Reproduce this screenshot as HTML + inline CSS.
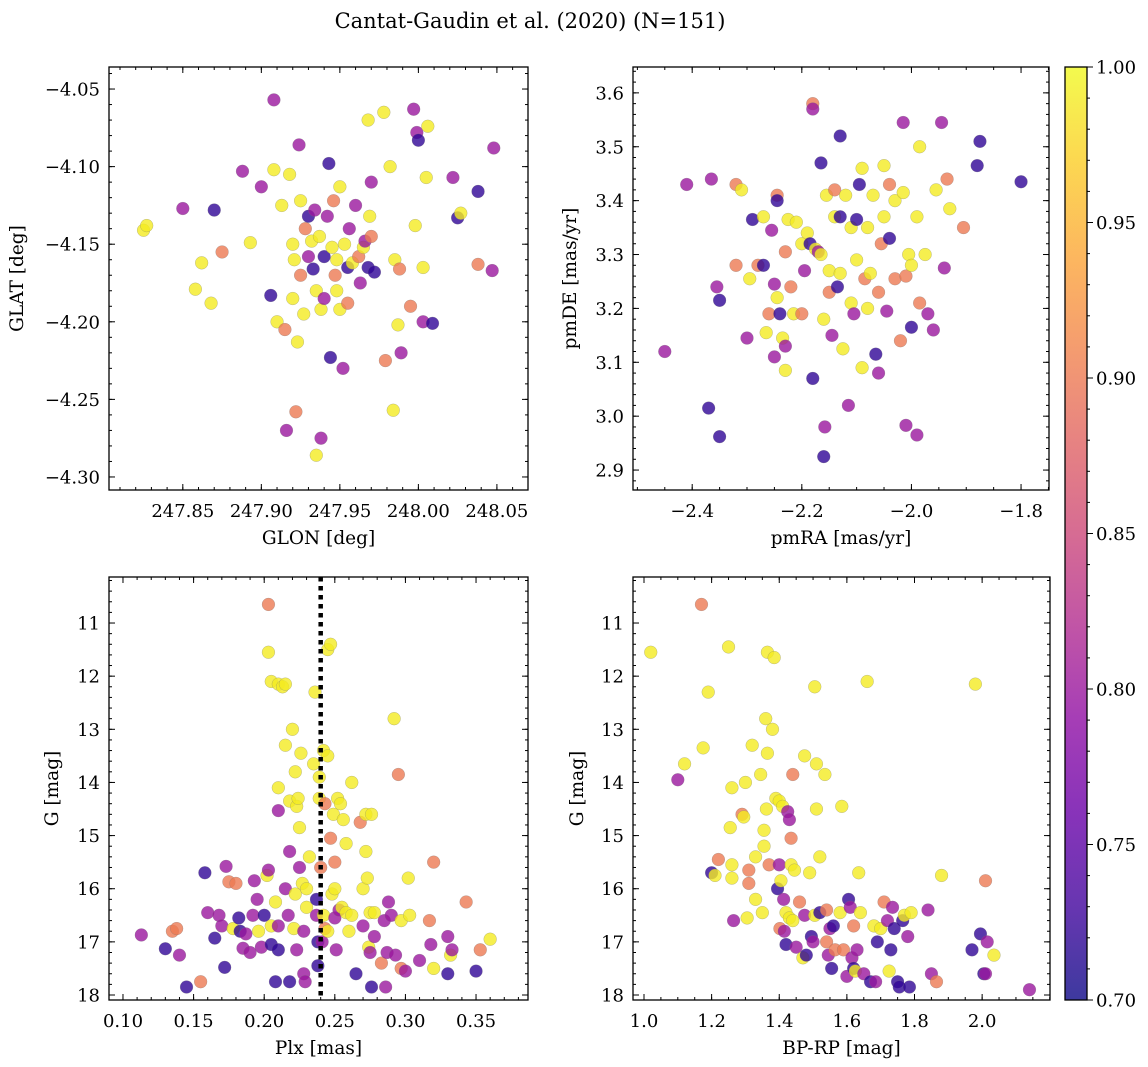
<!DOCTYPE html>
<html><head><meta charset="utf-8">
<style>
body{margin:0;background:#fff;}
svg{display:block;font-family:"DejaVu Serif","Liberation Serif",serif;}
</style></head>
<body>
<svg id="fig" width="1148" height="1067" viewBox="0 0 1148 1067" xmlns="http://www.w3.org/2000/svg">
<defs>
<linearGradient id="cbgrad" x1="0" y1="1" x2="0" y2="0">
<stop offset="0" stop-color="#0d0887"/><stop offset="0.1" stop-color="#41049d"/><stop offset="0.2" stop-color="#6a00a8"/><stop offset="0.3" stop-color="#8f0da4"/><stop offset="0.4" stop-color="#b12a90"/><stop offset="0.5" stop-color="#cc4778"/><stop offset="0.6" stop-color="#e16462"/><stop offset="0.7" stop-color="#f2844b"/><stop offset="0.8" stop-color="#fca636"/><stop offset="0.9" stop-color="#fcce25"/><stop offset="1" stop-color="#f0f921"/>
</linearGradient>
</defs>
<text x="530" y="28" font-size="21" text-anchor="middle">Cantat-Gaudin et al. (2020) (N=151)</text>
</svg>
<script>
// ---- data ----
const Y=0.99,O=0.90,P=0.80,B=0.72;
const glonVals=[247.825,247.827,247.85,247.858,247.862,247.868,247.870,247.875,247.888,247.893,247.900,247.908,247.908,247.906,247.910,247.913,247.915,247.916,247.918,247.920,247.920,247.921,247.922,247.923,247.924,247.925,247.925,247.927,247.928,247.930,247.930,247.932,247.933,247.934,247.935,247.935,247.937,247.938,247.938,247.940,247.940,247.942,247.943,247.944,247.945,247.946,247.947,247.948,247.948,247.950,247.950,247.952,247.953,247.955,247.955,247.956,247.958,247.960,247.962,247.963,247.965,247.966,247.968,247.968,247.969,247.970,247.970,247.972,247.978,247.979,247.982,247.984,247.985,247.987,247.988,247.989,247.995,247.997,247.998,247.999,248.000,248.003,248.003,248.005,248.006,248.009,248.022,248.025,248.027,248.038,248.038,248.047,248.048];
const glatVals=[-4.141,-4.138,-4.127,-4.179,-4.162,-4.188,-4.128,-4.155,-4.103,-4.149,-4.113,-4.057,-4.102,-4.183,-4.200,-4.125,-4.205,-4.270,-4.105,-4.185,-4.150,-4.160,-4.258,-4.213,-4.086,-4.170,-4.122,-4.195,-4.140,-4.132,-4.158,-4.148,-4.166,-4.128,-4.180,-4.286,-4.145,-4.192,-4.275,-4.158,-4.185,-4.132,-4.098,-4.223,-4.152,-4.122,-4.170,-4.180,-4.160,-4.192,-4.113,-4.230,-4.150,-4.165,-4.188,-4.140,-4.162,-4.125,-4.158,-4.175,-4.152,-4.148,-4.070,-4.165,-4.132,-4.110,-4.145,-4.168,-4.065,-4.225,-4.100,-4.257,-4.160,-4.202,-4.166,-4.220,-4.190,-4.063,-4.138,-4.078,-4.083,-4.165,-4.200,-4.107,-4.074,-4.201,-4.107,-4.133,-4.130,-4.116,-4.163,-4.167,-4.088];
const probA=[Y,Y,P,Y,Y,Y,B,O,P,Y,P,P,Y,B,Y,Y,O,P,Y,Y,Y,Y,O,Y,P,O,Y,Y,O,B,P,Y,B,P,Y,Y,Y,Y,P,B,P,P,B,B,Y,O,O,Y,Y,Y,Y,P,Y,B,O,P,Y,P,O,P,Y,P,Y,B,Y,P,O,B,Y,O,Y,Y,Y,Y,O,P,O,P,Y,P,B,Y,P,Y,Y,B,P,B,Y,B,O,P,P];

const pmraVals=[-2.45,-2.41,-2.37,-2.365,-2.355,-2.35,-2.35,-2.32,-2.32,-2.31,-2.30,-2.295,-2.29,-2.28,-2.27,-2.27,-2.265,-2.26,-2.255,-2.25,-2.25,-2.245,-2.245,-2.245,-2.24,-2.235,-2.23,-2.23,-2.23,-2.225,-2.22,-2.215,-2.21,-2.20,-2.20,-2.195,-2.19,-2.185,-2.18,-2.18,-2.18,-2.175,-2.17,-2.165,-2.165,-2.16,-2.16,-2.158,-2.155,-2.15,-2.15,-2.145,-2.14,-2.14,-2.135,-2.13,-2.13,-2.13,-2.125,-2.12,-2.115,-2.11,-2.11,-2.105,-2.10,-2.10,-2.095,-2.09,-2.09,-2.085,-2.08,-2.08,-2.075,-2.07,-2.065,-2.06,-2.06,-2.055,-2.05,-2.05,-2.045,-2.04,-2.04,-2.03,-2.03,-2.02,-2.015,-2.015,-2.01,-2.01,-2.005,-2.00,-2.0,-1.99,-1.985,-1.985,-1.99,-1.975,-1.97,-1.96,-1.955,-1.945,-1.94,-1.935,-1.93,-1.905,-1.88,-1.875,-1.80];
const pmdeVals=[3.12,3.43,3.015,3.44,3.24,3.215,2.962,3.43,3.28,3.42,3.145,3.255,3.365,3.28,3.37,3.28,3.155,3.19,3.345,3.245,3.11,3.41,3.40,3.22,3.19,3.145,3.305,3.13,3.085,3.365,3.24,3.19,3.36,3.32,3.19,3.27,3.34,3.32,3.58,3.57,3.07,3.31,3.305,3.47,3.30,3.18,2.925,2.98,3.41,3.27,3.23,3.15,3.42,3.37,3.24,3.52,3.37,3.265,3.125,3.41,3.02,3.35,3.21,3.19,3.365,3.29,3.43,3.46,3.09,3.255,3.20,3.35,3.265,3.41,3.115,3.08,3.23,3.32,3.465,3.37,3.195,3.33,3.43,3.40,3.255,3.14,3.545,3.415,3.26,2.983,3.30,3.165,3.28,3.37,3.50,3.21,2.965,3.30,3.19,3.16,3.42,3.545,3.275,3.44,3.385,3.35,3.465,3.51,3.435];
const probB=[P,P,B,P,P,B,B,O,O,Y,P,Y,B,O,Y,B,Y,O,P,P,P,O,B,Y,B,Y,O,P,Y,Y,O,Y,Y,Y,O,P,Y,B,O,P,B,Y,P,B,Y,Y,B,P,Y,Y,O,P,O,Y,B,B,B,Y,Y,Y,P,Y,Y,P,B,Y,B,Y,Y,O,Y,Y,Y,Y,B,P,O,O,Y,Y,P,B,O,Y,O,O,P,Y,O,P,Y,B,Y,Y,Y,O,P,Y,P,P,Y,P,P,O,Y,O,B,B,B];

const plxVals=[0.113,0.13,0.135,0.138,0.14,0.145,0.155,0.158,0.16,0.165,0.168,0.170,0.172,0.173,0.175,0.178,0.18,0.182,0.183,0.185,0.187,0.19,0.192,0.193,0.195,0.196,0.198,0.2,0.202,0.203,0.203,0.203,0.205,0.205,0.205,0.208,0.208,0.21,0.21,0.21,0.21,0.21,0.213,0.215,0.215,0.215,0.217,0.218,0.218,0.218,0.22,0.221,0.222,0.222,0.223,0.223,0.224,0.225,0.225,0.226,0.227,0.228,0.228,0.229,0.23,0.23,0.232,0.235,0.236,0.237,0.237,0.238,0.238,0.239,0.239,0.24,0.241,0.242,0.242,0.243,0.243,0.245,0.245,0.245,0.247,0.247,0.248,0.249,0.25,0.25,0.25,0.251,0.252,0.253,0.254,0.255,0.256,0.258,0.258,0.26,0.262,0.262,0.265,0.268,0.27,0.27,0.272,0.272,0.273,0.274,0.275,0.275,0.276,0.276,0.278,0.278,0.283,0.285,0.286,0.287,0.288,0.29,0.292,0.293,0.295,0.297,0.297,0.3,0.302,0.303,0.31,0.317,0.318,0.32,0.32,0.33,0.33,0.332,0.333,0.343,0.35,0.353,0.36];
const gVals3=[16.87,17.13,16.8,16.75,17.25,17.85,17.75,15.7,16.45,16.93,16.5,16.7,17.48,15.58,15.87,16.75,15.9,16.55,16.8,17.12,16.85,17.2,16.5,15.85,16.2,16.8,17.1,16.5,15.75,10.65,15.65,11.55,17.05,16.7,12.1,16.25,17.75,17.15,16.7,12.15,14.1,14.53,12.2,16.0,12.15,13.3,16.5,14.35,15.3,17.75,13.0,16.75,16.1,13.8,14.45,17.15,14.3,14.85,15.6,13.45,15.9,17.6,16.8,17.75,16.0,16.35,15.4,13.65,12.3,16.5,16.2,17.0,17.45,14.3,13.9,15.6,17.0,13.4,16.5,14.4,16.75,11.5,13.5,16.8,11.4,15.05,16.1,14.6,16.0,16.55,15.5,17.15,14.3,16.4,14.4,16.35,14.7,15.15,16.45,16.8,14.0,16.5,17.6,14.75,16.0,16.7,15.3,14.6,15.8,17.1,16.45,17.2,14.6,17.85,16.45,16.9,17.4,16.6,17.85,17.2,16.25,16.5,12.8,17.25,13.85,16.6,17.5,17.55,15.8,16.5,17.35,16.6,17.05,15.5,17.5,17.6,16.9,17.25,17.15,16.25,17.55,17.15,16.95];
const probC=[P,B,O,O,P,B,O,B,P,B,P,P,B,P,O,Y,O,B,B,P,P,P,P,P,P,Y,P,B,Y,O,P,Y,B,Y,Y,Y,B,B,P,Y,Y,P,Y,P,Y,Y,P,Y,P,B,Y,Y,Y,Y,Y,P,Y,Y,P,Y,Y,P,P,P,Y,Y,Y,Y,Y,P,B,B,B,Y,Y,O,P,Y,Y,O,O,Y,Y,Y,Y,O,Y,Y,Y,P,O,P,Y,P,Y,Y,Y,Y,Y,Y,Y,Y,B,O,Y,P,Y,Y,Y,Y,Y,P,Y,B,Y,P,O,P,P,P,P,P,Y,P,O,Y,O,P,Y,Y,P,O,P,O,Y,B,P,Y,P,O,B,O,Y];

const bprpVals=[1.02,1.1,1.12,1.17,1.175,1.19,1.2,1.21,1.22,1.25,1.255,1.26,1.26,1.26,1.265,1.29,1.295,1.3,1.305,1.31,1.31,1.32,1.33,1.33,1.345,1.35,1.355,1.355,1.36,1.362,1.365,1.365,1.37,1.38,1.385,1.39,1.395,1.4,1.4,1.402,1.405,1.41,1.413,1.415,1.42,1.42,1.425,1.43,1.43,1.435,1.435,1.44,1.44,1.445,1.45,1.46,1.47,1.475,1.475,1.48,1.49,1.495,1.5,1.505,1.505,1.51,1.51,1.52,1.52,1.535,1.54,1.54,1.545,1.55,1.555,1.56,1.565,1.58,1.585,1.59,1.6,1.605,1.61,1.615,1.62,1.62,1.625,1.63,1.635,1.64,1.65,1.66,1.67,1.68,1.685,1.69,1.7,1.71,1.72,1.725,1.73,1.735,1.74,1.75,1.755,1.765,1.77,1.78,1.785,1.79,1.84,1.85,1.865,1.88,1.97,1.98,1.995,2.005,2.01,2.015,2.01,2.035,2.14];
const gVals4=[11.55,13.95,13.65,10.65,13.35,12.3,15.7,15.75,15.45,11.45,14.85,14.1,15.55,15.8,16.6,14.6,14.65,14.0,16.55,15.9,15.65,13.3,15.4,16.2,13.85,16.45,15.2,14.9,12.8,14.5,13.45,11.55,15.55,13.0,11.65,14.3,16.0,14.35,15.55,16.75,15.85,14.45,16.2,16.8,16.45,17.05,14.55,14.7,16.55,15.55,15.05,13.85,16.6,15.65,17.1,16.25,17.3,16.5,13.5,17.25,15.7,16.9,17.0,16.5,12.2,14.5,13.65,15.4,16.45,13.85,16.4,17.0,17.25,16.75,17.5,16.7,17.15,16.45,14.45,17.15,17.65,16.2,16.35,17.3,17.5,16.7,17.55,17.15,15.7,16.45,17.6,12.1,17.75,16.7,17.75,17.0,16.75,16.25,16.6,17.55,17.15,16.35,16.75,17.75,17.85,16.6,16.5,16.9,17.85,16.45,16.4,17.6,17.75,15.75,17.15,12.15,16.85,17.6,17.6,17.0,15.85,17.25,17.9];
const probD=[Y,P,Y,O,Y,Y,B,Y,O,Y,Y,Y,Y,Y,P,O,Y,Y,Y,O,O,Y,Y,Y,Y,Y,Y,Y,Y,Y,Y,Y,O,Y,Y,Y,B,Y,P,O,Y,Y,P,P,Y,B,P,P,Y,Y,O,O,Y,Y,P,O,Y,P,Y,B,Y,B,P,Y,Y,Y,Y,Y,B,Y,O,O,P,P,B,B,O,Y,Y,O,P,B,P,P,B,O,Y,P,Y,Y,P,Y,B,Y,P,B,Y,O,P,Y,B,P,B,B,B,B,Y,P,B,Y,P,P,O,Y,B,Y,B,B,P,P,O,Y,P];

const xTicks1=[247.85,247.90,247.95,248.00,248.05], yTicks1=[-4.05,-4.10,-4.15,-4.20,-4.25,-4.30];
const xTicks2=[-2.4,-2.2,-2.0,-1.8], yTicks2=[2.9,3.0,3.1,3.2,3.3,3.4,3.5,3.6];
const xTicks3=[0.10,0.15,0.20,0.25,0.30,0.35], yTicksG=[11,12,13,14,15,16,17,18];
const xTicks4=[1.0,1.2,1.4,1.6,1.8,2.0];
const cbTicks=[0.70,0.75,0.80,0.85,0.90,0.95,1.00];
const plxCut=0.24;

// ---- helpers ----
const NS="http://www.w3.org/2000/svg";
const svg=document.getElementById('fig');
function mk(tag,attrs,parent){const e=document.createElementNS(NS,tag);for(const k in attrs)e.setAttribute(k,attrs[k]);(parent||svg).appendChild(e);return e;}
const stops=[[13,8,135],[65,4,157],[106,0,168],[143,13,164],[177,42,144],[204,71,120],[225,100,98],[242,132,75],[252,166,54],[252,206,37],[240,249,33]];
function plasma(c){let t=(c-0.7)/0.3;t=Math.max(0,Math.min(1,t))*10;const i=Math.min(9,Math.floor(t)),f=t-i;const a=stops[i],b=stops[i+1];return 'rgb('+a.map((v,k)=>Math.round(v+(b[k]-v)*f)).join(',')+')';}
function fmt(v,d){return (v<0?'\u2212':'')+Math.abs(v).toFixed(d);}
function lin(d0,d1,p0,p1){return v=>p0+(v-d0)*(p1-p0)/(d1-d0);}
const FS=18, AFS=18.5;

function panel(cfg){
  const g=mk('g',{});
  
  
  const sx=lin(cfg.xd[0],cfg.xd[1],cfg.L,cfg.R), sy=lin(cfg.yd[0],cfg.yd[1],cfg.T,cfg.Bt);
  const tk=mk('g',{stroke:'#000','stroke-width':1},g);
  
  
  const xlo=Math.min(...cfg.xd),xhi=Math.max(...cfg.xd),ylo=Math.min(...cfg.yd),yhi=Math.max(...cfg.yd);
  for(let v=Math.ceil(xlo/cfg.xm)*cfg.xm;v<=xhi;v+=cfg.xm){const x=sx(v);mk('line',{x1:x,x2:x,y1:cfg.Bt,y2:cfg.Bt-3},tk);mk('line',{x1:x,x2:x,y1:cfg.T,y2:cfg.T+3},tk);}
  for(let v=Math.ceil(ylo/cfg.ym)*cfg.ym;v<=yhi;v+=cfg.ym){const y=sy(v);mk('line',{x1:cfg.L,x2:cfg.L+3,y1:y,y2:y},tk);mk('line',{x1:cfg.R,x2:cfg.R-3,y1:y,y2:y},tk);}
  cfg.xt.forEach(v=>{const x=sx(v);mk('line',{x1:x,x2:x,y1:cfg.Bt,y2:cfg.Bt-6},tk);mk('line',{x1:x,x2:x,y1:cfg.T,y2:cfg.T+6},tk);
    const t=mk('text',{x:x,y:cfg.Bt+27,'font-size':FS,'text-anchor':'middle'},g);t.textContent=fmt(v,cfg.xdp);
    });
  cfg.yt.forEach(v=>{const y=sy(v);mk('line',{x1:cfg.L,x2:cfg.L+6,y1:y,y2:y},tk);mk('line',{x1:cfg.R,x2:cfg.R-6,y1:y,y2:y},tk);
    const t=mk('text',{x:cfg.L-9,y:y+6.5,'font-size':FS,'text-anchor':'end'},g);t.textContent=fmt(v,cfg.ydp);
    });
  const pg=mk('g',{},g);
  
  
  cfg.xs.forEach((xv,i)=>{const c=mk('circle',{cx:sx(xv),cy:sy(cfg.ys[i]),r:6.4,fill:plasma(cfg.cs[i]),'fill-opacity':0.8,stroke:'#777','stroke-width':0.4,'stroke-opacity':0.6},pg);
    
    });
  if(cfg.extra)cfg.extra(g,sx,sy);
  const fr=mk('rect',{x:cfg.L,y:cfg.T,width:cfg.R-cfg.L,height:cfg.Bt-cfg.T,fill:'none',stroke:'#000','stroke-width':1.3},g);
  
  
  const xl=mk('text',{x:(cfg.L+cfg.R)/2,y:cfg.Bt+54,'font-size':AFS,'text-anchor':'middle'},g);xl.textContent=cfg.xlab;
  
  const yl=mk('text',{x:0,y:0,'font-size':AFS,'text-anchor':'middle',transform:'translate('+cfg.ylx+','+(cfg.T+cfg.Bt)/2+') rotate(-90)'},g);yl.textContent=cfg.ylab;
  
}

panel({name:'glon-glat-panel',L:109,R:528,T:67,Bt:490,xd:[247.803,248.0698],yd:[-4.0358,-4.3084],xm:0.01,ym:0.01,xt:xTicks1,yt:yTicks1,xdp:2,ydp:2,xs:glonVals,ys:glatVals,cs:probA,xlab:'GLON [deg]',ylab:'GLAT [deg]',ylx:23});
panel({name:'pm-panel',L:633,R:1049,T:67,Bt:490,xd:[-2.508,-1.749],yd:[3.648,2.863],xm:0.05,ym:0.02,xt:xTicks2,yt:yTicks2,xdp:1,ydp:1,xs:pmraVals,ys:pmdeVals,cs:probB,xlab:'pmRA [mas/yr]',ylab:'pmDE [mas/yr]',ylx:576});
panel({name:'plx-g-panel',L:109,R:528,T:577,Bt:1000,xd:[0.0901,0.3868],yd:[10.134,18.094],xm:0.01,ym:0.2,xt:xTicks3,yt:yTicksG,xdp:2,ydp:0,xs:plxVals,ys:gVals3,cs:probC,xlab:'Plx [mas]',ylab:'G [mag]',ylx:58,
  extra:(g,sx,sy)=>{const l=mk('line',{x1:sx(plxCut),x2:sx(plxCut),y1:577,y2:1000,stroke:'#000','stroke-width':4.5,'stroke-dasharray':'4.5,4.5'},g);
    }});
panel({name:'cmd-panel',L:633,R:1050,T:577,Bt:1000,xd:[0.9675,2.2007],yd:[10.134,18.094],xm:0.05,ym:0.2,xt:xTicks4,yt:yTicksG,xdp:1,ydp:0,xs:bprpVals,ys:gVals4,cs:probD,xlab:'BP-RP [mag]',ylab:'G [mag]',ylx:583});

// colorbar
const cb=mk('g',{});


const cbT=67,cbB=1000,cbL=1065,cbR=1087;
mk('rect',{x:cbL,y:cbT,width:cbR-cbL,height:cbB-cbT,fill:'url(#cbgrad)','fill-opacity':0.8},cb);
mk('rect',{x:cbL,y:cbT,width:cbR-cbL,height:cbB-cbT,fill:'none',stroke:'#000','stroke-width':1.3},cb);
const cy=lin(0.7,1.0,cbB,cbT);
for(let v=0.70;v<=1.0001;v+=0.01){mk('line',{x1:cbR,x2:cbR+3,y1:cy(v),y2:cy(v),stroke:'#000'},cb);}
cbTicks.forEach(v=>{mk('line',{x1:cbR,x2:cbR+6,y1:cy(v),y2:cy(v),stroke:'#000'},cb);
  const t=mk('text',{x:cbR+9,y:cy(v)+6.5,'font-size':FS},cb);t.textContent=v.toFixed(2);
  });
</script>
</body></html>
